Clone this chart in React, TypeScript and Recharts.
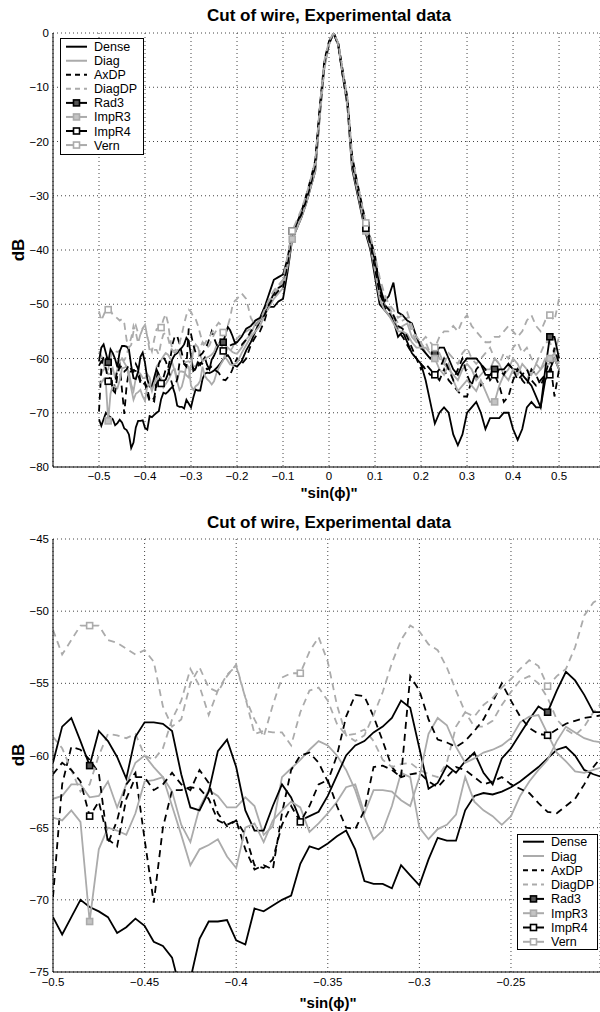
import React from 'react';
import { LineChart, Line, XAxis, YAxis, CartesianGrid } from 'recharts';

// ---------- data ----------
const X_VALUES = [
  -0.5, -0.495, -0.49, -0.485, -0.48, -0.475, -0.47, -0.465, -0.46, -0.455,
  -0.45, -0.445, -0.44, -0.435, -0.43, -0.425, -0.42, -0.415, -0.41, -0.405,
  -0.4, -0.395, -0.39, -0.385, -0.38, -0.375, -0.37, -0.365, -0.36, -0.355,
  -0.35, -0.345, -0.34, -0.335, -0.33, -0.325, -0.32, -0.315, -0.31, -0.305,
  -0.3, -0.295, -0.29, -0.285, -0.28, -0.275, -0.27, -0.265, -0.26, -0.255,
  -0.25, -0.245, -0.24, -0.235, -0.23, -0.225, -0.22, -0.215, -0.21, -0.205,
  -0.2,
  -0.19, -0.18, -0.17, -0.16, -0.15, -0.14, -0.13, -0.12, -0.11, -0.1,
  -0.09, -0.08, -0.07, -0.06, -0.05, -0.04, -0.03, -0.02, -0.01, 0,
  0.01, 0.02, 0.03, 0.04, 0.05, 0.06, 0.07, 0.08, 0.09, 0.1,
  0.11, 0.12, 0.13, 0.14, 0.15, 0.16, 0.17, 0.18, 0.19, 0.2,
  0.21, 0.22, 0.23, 0.24, 0.25, 0.26, 0.27, 0.28, 0.29, 0.3,
  0.31, 0.32, 0.33, 0.34, 0.35, 0.36, 0.37, 0.38, 0.39, 0.4,
  0.41, 0.42, 0.43, 0.44, 0.45, 0.46, 0.47, 0.48, 0.49, 0.5,
];

const DENSE = [
  -71.2, -72.4, -71.2, -70.0, -70.5, -70.8, -71.2, -72.3, -71.9, -71.3,
  -71.8, -72.9, -73.2, -74.0, -76.5, -75.5, -72.7, -71.5, -71.5, -71.4,
  -72.8, -73.1, -70.6, -70.8, -70.4, -70.0, -69.7, -67.5, -66.3, -66.5,
  -66.1, -65.6, -65.2, -66.5, -68.7, -68.9, -68.9, -69.2, -67.6, -68.3,
  -69.0, -67.2, -65.7, -65.9, -65.9, -63.8, -62.8, -62.6, -62.7, -62.5,
  -62.2, -61.8, -61.3, -60.8, -60.2, -59.6, -59.4, -60.0, -61.0, -61.3,
  -61.5,
  -60.5, -58.5, -57, -55, -53, -51.5, -50.5, -50.5, -49.5, -49,
  -44, -38, -36, -34, -31.5, -28.5, -25.5, -15, -6, -2,
  0, -2.2, -8, -13.5, -25, -29, -33, -37, -40, -45,
  -50, -51, -52, -53, -56, -55, -57, -59, -60, -61,
  -64, -68, -72, -70, -69, -70, -74, -76, -74, -70,
  -69, -68, -70, -73, -71, -71, -71, -70, -70, -73,
  -75, -73, -69, -68, -69, -69, -64, -62, -60, -62,
];

const DIAG = [
  -63.0, -62.8, -62.0, -62.0, -62.9, -62.8, -61.8, -63.6, -62.0, -60.5,
  -60.0, -60.8, -61.5, -62.5, -64.8, -66.0, -63.6, -62.4, -62.8, -63.6,
  -63.6, -62.9, -63.5, -65.5, -64.9, -61.5, -60.9, -60.3, -59.6, -59.0,
  -59.3, -60.0, -61.0, -62.4, -64.3, -65.8, -65.2, -63.5, -61.2, -61.5,
  -65.0, -65.8, -65.1, -64.8, -64.1, -61.5, -63.2, -63.8, -64.2, -64.8,
  -64.2, -62.8, -61.8, -61.0, -60.3, -59.0, -58.0, -58.4, -58.8, -59.0,
  -59.1,
  -58, -56.5, -55.5, -53.5, -53, -51, -49.5, -48, -47, -46,
  -42, -37.5, -35.5, -33.5, -31, -28, -25, -15, -6, -2,
  0, -2, -7.5, -13, -24, -28, -32, -36, -39, -43,
  -48, -50, -51, -52.5, -54.5, -54, -53.5, -56, -57, -57,
  -59, -60, -60, -59, -61, -62, -63, -64, -62, -61,
  -62, -64, -63, -62, -62, -60, -61, -63, -62, -60,
  -61, -63, -64, -62, -63, -62, -61, -61, -60, -62,
];

const AXDP = [
  -69.8, -62.0, -59.4, -59.6, -60.3, -61.2, -66.1, -64.5, -62.0, -61.2,
  -65.8, -70.2, -65.0, -62.4, -62.4, -62.2, -62.3, -63.0, -64.5, -64.8,
  -64.5, -66.5, -67.9, -67.6, -67.9, -64.0, -61.0, -60.0, -59.8, -60.5,
  -61.8, -60.0, -57.3, -55.8, -55.9, -57.3, -59.0, -60.8, -61.5, -61.3,
  -61.2, -61.8, -62.2, -61.5, -60.8, -61.0, -61.5, -62.0, -61.8, -61.5,
  -62.0, -62.3, -62.6, -63.3, -63.9, -64.0, -63.5, -63.0, -62.0, -60.8,
  -60.0,
  -61, -60, -57.5, -56, -55, -53, -50, -48, -47, -46.5,
  -43, -37.5, -35.5, -33, -30, -27, -23.5, -13.5, -5, -1.5,
  0, -1.8, -7, -12, -22.5, -27, -31, -35, -38, -41,
  -47, -50.5, -51.5, -53, -55, -56, -57.5, -59, -60, -61,
  -62, -63, -63, -64, -62, -64, -65, -66, -67, -67,
  -64, -63, -65, -64, -63, -63, -65, -68, -67, -64,
  -62, -64, -65, -62, -63, -65, -63, -60, -67, -62,
];

const DIAGDP = [
  -58.7, -59.5, -61.0, -62.5, -62.0, -60.0, -58.5, -58.6, -58.8, -58.5,
  -60.0, -60.3, -59.5, -57.5, -56.2, -54.0, -55.2, -57.2, -55.5, -54.4,
  -53.8, -56.0, -58.5, -58.3, -58.4, -58.4, -59.3, -57.0, -55.5, -55.3,
  -56.2, -57.8, -58.6, -58.5, -58.2, -59.0, -60.3, -60.8, -60.6, -60.5,
  -61.0, -61.3, -61.5, -60.5, -58.0, -57.0, -58.0, -58.0, -57.6, -56.5,
  -55.6, -54.8, -54.5, -55.0, -56.0, -57.5, -58.2, -58.6, -58.0, -57.0,
  -56.3,
  -55.5, -55, -54.5, -53, -52.5, -50.5, -49, -47.5, -46.5, -45.5,
  -41.5, -37, -35, -33, -30.5, -27.5, -24, -14, -5.5, -1.8,
  0, -2, -7.2, -12.5, -23, -27.5, -31.5, -35.5, -38, -42,
  -46, -49, -50.5, -52, -53.5, -53, -52.5, -55, -57, -58,
  -57, -59, -58, -60, -61, -59, -60, -61, -59, -58,
  -60, -61, -60, -59, -58, -60, -61, -59, -60, -58,
  -57, -59, -58, -60, -61, -59, -57, -57, -59, -56,
];

const RAD3 = [
  -60.5, -58.0, -57.4, -59.0, -60.7, -58.3, -59.0, -60.1, -61.6, -58.7,
  -57.7, -57.7, -57.8, -58.3, -61.3, -63.6, -63.8, -62.5, -59.7, -58.9,
  -60.8, -63.8, -65.2, -65.2, -63.5, -62.0, -62.9, -64.5, -64.2, -63.9,
  -62.8, -61.4, -60.0, -59.3, -59.0, -58.4, -58.0, -57.4, -56.2, -56.7,
  -59.5, -62.3, -61.9, -60.7, -61.2, -60.4, -59.8, -61.2, -62.0, -60.2,
  -59.5, -58.5, -57.5, -56.6, -57.0, -55.5, -54.2, -54.8, -55.8, -57.0,
  -57.0,
  -56, -54.5, -54, -53, -52.5, -50.5, -48, -45.5, -45, -44.5,
  -41.5, -36.5, -35, -33, -30.5, -28, -24.5, -14, -5.5, -1.8,
  0, -2, -7.5, -12.5, -23.5, -27.5, -31.5, -35.5, -38.5, -42,
  -46.5, -49.5, -48.5, -46, -51.5, -52, -53, -53.5, -56, -58,
  -59, -60, -59, -58, -58, -60, -62, -63, -61, -60,
  -60, -60, -61, -63, -63, -62, -62, -62, -61, -62,
  -62, -63, -64, -65, -67, -69, -62, -56, -56, -60,
];

const IMPR3 = [
  -64.3, -64.5, -63.8, -64.6, -71.5, -66.5, -65.0, -65.2, -65.5, -64.0,
  -61.8, -61.7, -61.5, -63.5, -65.5, -67.6, -66.5, -66.2, -65.8, -67.0,
  -67.8, -65.0, -64.7, -66.0, -64.5, -63.8, -63.2, -63.6, -65.3, -64.7,
  -64.0, -63.2, -62.2, -62.0, -64.0, -62.4, -62.4, -62.5, -63.1, -63.5,
  -61.5, -58.5, -57.4, -57.9, -59.4, -60.5, -60.2, -59.8, -59.6, -59.3,
  -58.8, -57.7, -57.3, -57.2, -58.5, -59.8, -60.4, -61.1, -61.2, -61.0,
  -60.8,
  -59, -57.5, -56, -55, -54, -52, -50.5, -49, -48, -47,
  -43, -38, -36, -34, -31.5, -28.5, -25.5, -15.5, -6.5, -2.2,
  0, -2.2, -7.8, -13.5, -24.5, -28.5, -32.5, -36.5, -39.5, -44,
  -49, -51, -52, -53.5, -55, -55, -55.5, -57, -58, -58,
  -58, -59, -60, -62, -63, -61, -64, -66, -65, -64,
  -65, -66, -64, -66, -68, -68, -65, -63, -64, -62,
  -63, -61, -62, -63, -61, -62, -60, -60, -59, -61,
];

const IMPR4 = [
  -61.3, -60.5, -61.0, -61.8, -64.2, -63.2, -65.8, -66.3, -63.0, -61.5,
  -61.5, -62.4, -62.0, -61.2, -62.0, -62.4, -61.0, -61.9, -64.0, -64.9,
  -64.5, -65.5, -67.6, -67.8, -67.2, -64.8, -63.5, -64.6, -63.5, -62.0,
  -61.7, -63.5, -65.0, -65.1, -63.8, -60.8, -60.7, -61.0, -61.5, -54.5,
  -55.5, -57.5, -58.9, -59.1, -59.4, -59.0, -58.3, -57.5, -56.3, -55.0,
  -56.2, -57.3, -58.1, -58.5, -58.6, -58.2, -57.8, -57.6, -57.4, -57.3,
  -57.2,
  -57.5, -56.5, -55, -54, -53, -52, -50, -48.5, -47.5, -47,
  -42.5, -37, -35, -33.5, -31, -28, -24.5, -14.5, -5.5, -2,
  0, -2.3, -8, -13, -24, -28, -32, -36, -39, -43.5,
  -48, -50, -51, -52, -54, -54.5, -56, -58, -60, -62,
  -61, -62, -63, -62, -60, -62, -64, -62, -60, -63,
  -65, -62, -61, -62, -64, -63, -62, -63, -61, -62,
  -64, -63, -62, -64, -65, -64, -63, -63, -58, -61,
];

const VERN = [
  -51.3, -53.0, -52.0, -51.0, -51.0, -51.0, -52.0, -52.2, -52.6, -53.0,
  -52.7, -53.5, -56.6, -58.0, -57.5, -55.0, -53.9, -55.3, -55.6, -54.5,
  -53.7, -56.0, -57.5, -58.7, -56.5, -54.6, -54.3, -54.3, -52.8, -51.8,
  -53.5, -56.5, -58.6, -59.0, -58.6, -57.2, -55.6, -53.6, -52.0, -51.0,
  -51.4, -52.3, -52.7, -53.9, -55.5, -57.0, -57.3, -56.5, -56.0, -55.3,
  -54.7, -54.0, -53.4, -53.8, -55.2, -54.5, -54.0, -52.5, -50.3, -49.4,
  -49.0,
  -48, -49, -52.5, -54, -53, -51, -49, -47.5, -46.5, -45.5,
  -41, -36.5, -34.5, -32.5, -30, -27, -23.5, -13.5, -5, -1.5,
  0, -1.8, -7, -12, -22.5, -27, -31, -35, -37.5, -41,
  -45, -48, -50, -51, -52.5, -52, -51.5, -54, -56, -57,
  -56, -57, -58, -56, -55, -55, -54, -55, -53, -52,
  -54, -55, -56, -57, -57, -56, -56, -55, -54, -55,
  -56, -55, -53, -52, -54, -55, -53, -52, -53, -49,
];

// x positions where the marker series show their square markers
const RAD3_MARKS = [-0.48, -0.23, -0.08, 0.08, 0.23, 0.36, 0.48];
const IMPR3_MARKS = [-0.48, -0.08, 0.08, 0.23, 0.36, 0.48];
const IMPR4_MARKS = [-0.48, -0.365, -0.23, 0.08, 0.23, 0.36, 0.48];
const VERN_MARKS = [-0.48, -0.365, -0.23, -0.08, 0.08, 0.23, 0.48];

const SERIES_NAMES = ['Dense', 'Diag', 'AxDP', 'DiagDP', 'Rad3', 'ImpR3', 'ImpR4', 'Vern'];

const TOP_X_TICKS = [-0.5, -0.4, -0.3, -0.2, -0.1, 0, 0.1, 0.2, 0.3, 0.4, 0.5];
const TOP_Y_TICKS = [-80, -70, -60, -50, -40, -30, -20, -10, 0];
const BOT_X_TICKS = [-0.5, -0.45, -0.4, -0.35, -0.3, -0.25];
const BOT_Y_TICKS = [-75, -70, -65, -60, -55, -50, -45];

const TITLE = 'Cut of wire, Experimental data';
const X_LABEL = '"sin(\u03d5)"';
const Y_LABEL = 'dB';

// ---------- styles ----------
const BLACK = '#000000';
const GRAY = '#ababab';
const DASH = '7 5';
const FONT = '"Liberation Sans", Arial, Helvetica, sans-serif';

const DATA = X_VALUES.map((x, i) => ({
  x,
  Dense: DENSE[i],
  Diag: DIAG[i],
  AxDP: AXDP[i],
  DiagDP: DIAGDP[i],
  Rad3: RAD3[i],
  ImpR3: IMPR3[i],
  ImpR4: IMPR4[i],
  Vern: VERN[i],
}));

type Def = {
  name: string;
  color: string;
  dash?: string;
  marks?: number[];
  markFill?: string;
  markStroke?: string;
  legendDash?: string;
};

const DEFS: Def[] = [
  { name: 'Dense', color: BLACK },
  { name: 'Diag', color: GRAY },
  { name: 'AxDP', color: BLACK, dash: DASH, legendDash: '5 4' },
  { name: 'DiagDP', color: GRAY, dash: DASH, legendDash: '5 4' },
  { name: 'Rad3', color: BLACK, marks: RAD3_MARKS, markFill: '#555555', markStroke: BLACK },
  { name: 'ImpR3', color: GRAY, marks: IMPR3_MARKS, markFill: '#c4c4c4', markStroke: GRAY },
  { name: 'ImpR4', color: BLACK, dash: DASH, marks: IMPR4_MARKS, markFill: '#ffffff', markStroke: BLACK },
  { name: 'Vern', color: GRAY, dash: DASH, marks: VERN_MARKS, markFill: '#ffffff', markStroke: GRAY },
];

const fmt = (v: number) => (v === 0 ? '0' : String(v).replace('-', '\u2212'));

const makeDot = (def: Def, prefix: string) => (props: any) => {
  const { cx, cy, payload, index } = props;
  const key = `${prefix}-${def.name}-${index}`;
  if (!def.marks || cx == null || cy == null || !def.marks.includes(payload.x)) {
    return <g key={key} />;
  }
  return (
    <rect
      key={key}
      x={cx - 3}
      y={cy - 3}
      width={6}
      height={6}
      fill={def.markFill}
      stroke={def.markStroke}
      strokeWidth={1.6}
    />
  );
};

const tickStyle = { fontSize: 11.5, fill: '#000', fontFamily: FONT };

function Panel(props: {
  prefix: string;
  xDomain: [number, number];
  yDomain: [number, number];
  xTicks: number[];
  yTicks: number[];
  xAxisHeight: number;
  xTickSize: number;
}) {
  const { prefix, xDomain, yDomain, xTicks, yTicks, xAxisHeight, xTickSize } = props;
  return (
    <LineChart
      width={600}
      height={506}
      data={DATA}
      margin={{ top: 33, right: 0, bottom: 0, left: 0 }}
    >
      <CartesianGrid stroke="#444" strokeDasharray="1 3" strokeWidth={1} />
      <XAxis
        type="number"
        dataKey="x"
        domain={xDomain}
        ticks={xTicks}
        allowDataOverflow
        height={xAxisHeight}
        tickLine={false}
        tickSize={xTickSize}
        tickMargin={2}
        axisLine={{ stroke: '#000', strokeWidth: 1 }}
        tick={tickStyle}
        tickFormatter={fmt}
        interval={0}
      />
      <YAxis
        type="number"
        domain={yDomain}
        ticks={yTicks}
        allowDataOverflow
        width={53}
        tickLine={false}
        tickSize={2}
        tickMargin={2}
        axisLine={{ stroke: '#000', strokeWidth: 1 }}
        tick={tickStyle}
        tickFormatter={fmt}
        interval={0}
      />
      {DEFS.map((d) => (
        <Line
          key={d.name}
          type="linear"
          dataKey={d.name}
          stroke={d.color}
          strokeWidth={1.8}
          strokeDasharray={d.dash}
          dot={makeDot(d, prefix)}
          activeDot={false}
          isAnimationActive={false}
        />
      ))}
    </LineChart>
  );
}

function LegendBox(props: { x: number; y: number; w: number; h: number; lineX: number; textX: number; rowY: number; step: number }) {
  const { x, y, w, h, lineX, textX, rowY, step } = props;
  return (
    <g>
      <rect x={x} y={y} width={w} height={h} fill="#fff" stroke="#000" strokeWidth={1} />
      {DEFS.map((d, i) => {
        const cy = rowY + i * step;
        return (
          <g key={d.name}>
            <line
              x1={lineX}
              x2={lineX + 21}
              y1={cy}
              y2={cy}
              stroke={d.color}
              strokeWidth={2}
              strokeDasharray={d.legendDash}
            />
            {d.marks && (
              <rect
                x={lineX + 7.5}
                y={cy - 3}
                width={6}
                height={6}
                fill={d.markFill}
                stroke={d.markStroke}
                strokeWidth={1.6}
              />
            )}
            <text x={textX} y={cy + 4.5} fontSize={12.5} fontFamily={FONT} fill="#000">
              {SERIES_NAMES[i]}
            </text>
          </g>
        );
      })}
    </g>
  );
}

function Overlay() {
  return (
    <svg
      width={600}
      height={1012}
      style={{ position: 'absolute', left: 0, top: 0, pointerEvents: 'none' }}
    >
      <text x={329} y={21} textAnchor="middle" fontSize={16} fontWeight="bold" fontFamily={FONT} textLength={244} lengthAdjust="spacingAndGlyphs">
        {TITLE}
      </text>
      <text x={329} y={498} textAnchor="middle" fontSize={15} fontWeight="bold" fontFamily={FONT}>
        {X_LABEL}
      </text>
      <text transform="translate(24,250) rotate(-90)" textAnchor="middle" fontSize={17} fontWeight="bold" fontFamily={FONT}>
        {Y_LABEL}
      </text>
      <LegendBox x={60.5} y={38.5} w={83} h={116} lineX={66} textX={94} rowY={46.7} step={14.05} />

      <text x={329} y={528} textAnchor="middle" fontSize={16} fontWeight="bold" fontFamily={FONT} textLength={244} lengthAdjust="spacingAndGlyphs">
        {TITLE}
      </text>
      <text x={328} y={1008} textAnchor="middle" fontSize={15} fontWeight="bold" fontFamily={FONT}>
        {X_LABEL}
      </text>
      <text transform="translate(24,755) rotate(-90)" textAnchor="middle" fontSize={17} fontWeight="bold" fontFamily={FONT}>
        {Y_LABEL}
      </text>
      <LegendBox x={517.5} y={834.5} w={80} h={115} lineX={523} textX={551} rowY={841.7} step={14.3} />
    </svg>
  );
}

export default function App() {
  return (
    <div style={{ position: 'absolute', left: 0, top: 0, width: 600, height: 1012, background: '#fff', overflow: 'hidden' }}>
      <div style={{ position: 'absolute', left: 0, top: 0 }}>
        <Panel
          prefix="top"
          xDomain={[-0.6, 0.589]}
          yDomain={[-80, 0]}
          xTicks={TOP_X_TICKS}
          yTicks={TOP_Y_TICKS}
          xAxisHeight={39}
          xTickSize={3}
        />
      </div>
      <div style={{ position: 'absolute', left: 0, top: 506 }}>
        <Panel
          prefix="bot"
          xDomain={[-0.5, -0.2014]}
          yDomain={[-75, -45]}
          xTicks={BOT_X_TICKS}
          yTicks={BOT_Y_TICKS}
          xAxisHeight={40}
          xTickSize={4}
        />
      </div>
      <Overlay />
    </div>
  );
}
